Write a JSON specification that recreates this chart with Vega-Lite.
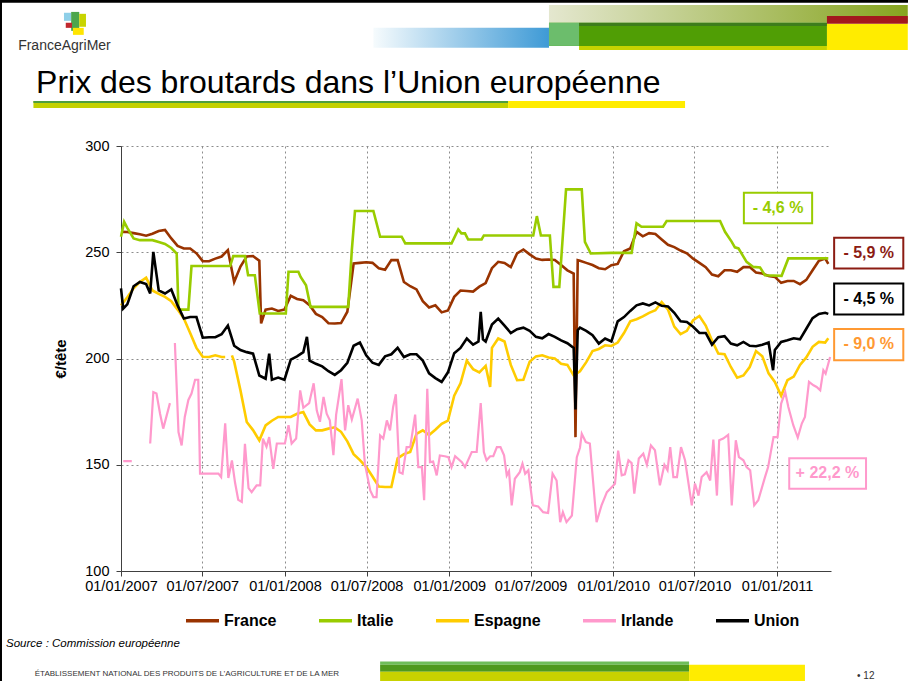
{
"$schema": "https://vega.github.io/schema/vega-lite/v6.json",
"width": 710, "height": 425,
"autosize": {"type": "none"},
"padding": {"left": 121, "top": 146, "right": 77, "bottom": 110},
"background": "#ffffff",
"config": {
  "view": {"stroke": null},
  "font": "Liberation Sans",
  "axis": {"labelFont": "Liberation Sans", "labelColor": "#000000", "labelFontSize": 14.5, "gridColor": "#8c8c8c", "gridDash": [2, 3], "gridWidth": 1, "domainColor": "#404040", "tickColor": "#404040", "tickSize": 5, "domainWidth": 1}
},
"layer": [
  {"data": {"values": [{}]}, "mark": {"type": "rect", "color": "#000000"},
   "encoding": {"x": {"datum": {"year": 2005, "month": 1, "date": 1}, "type": "temporal"}, "x2": {"datum": {"year": 2013, "month": 1, "date": 1}}, "y": {"datum": 400, "type": "quantitative"}, "y2": {"datum": 367.4}}},
  {"data": {"values": [{}]}, "mark": {"type": "rect", "color": "#000000"},
   "encoding": {"x": {"datum": {"year": 2005, "month": 1, "date": 1}, "type": "temporal"}, "x2": {"datum": {"year": 2006, "month": 4, "date": 11}}, "y": {"datum": 400, "type": "quantitative"}, "y2": {"datum": 0}}},
  {"data": {"values": [{}]}, "mark": {"type": "rect", "color": {"gradient": "linear", "x1": 0, "y1": 0, "x2": 1, "y2": 0, "stops": [{"offset": 0, "color": "#f6fbfd"}, {"offset": 1, "color": "#3e9ad6"}]}},
   "encoding": {"x": {"datum": {"year": 2008, "month": 7, "date": 16}, "type": "temporal"}, "x2": {"datum": {"year": 2009, "month": 8, "date": 11}}, "y": {"datum": 355.6, "type": "quantitative"}, "y2": {"datum": 346.2}}},
  {"data": {"values": [{}]}, "mark": {"type": "rect", "color": {"gradient": "linear", "x1": 0, "y1": 0, "x2": 1, "y2": 0, "stops": [{"offset": 0, "color": "#e4e7cf"}, {"offset": 1, "color": "#86a41f"}]}},
   "encoding": {"x": {"datum": {"year": 2009, "month": 8, "date": 11}, "type": "temporal"}, "x2": {"datum": {"year": 2011, "month": 10, "date": 19}}, "y": {"datum": 366.4, "type": "quantitative"}, "y2": {"datum": 358.0}}},
  {"data": {"values": [{}]}, "mark": {"type": "rect", "color": "#509e05"},
   "encoding": {"x": {"datum": {"year": 2009, "month": 8, "date": 11}, "type": "temporal"}, "x2": {"datum": {"year": 2011, "month": 4, "date": 22}}, "y": {"datum": 358.0, "type": "quantitative"}, "y2": {"datum": 347.1}}},
  {"data": {"values": [{}]}, "mark": {"type": "rect", "color": "#6cbd6c"},
   "encoding": {"x": {"datum": {"year": 2009, "month": 8, "date": 11}, "type": "temporal"}, "x2": {"datum": {"year": 2009, "month": 10, "date": 17}}, "y": {"datum": 358.0, "type": "quantitative"}, "y2": {"datum": 347.1}}},
  {"data": {"values": [{}]}, "mark": {"type": "rect", "color": "#3e7d1c"},
   "encoding": {"x": {"datum": {"year": 2009, "month": 10, "date": 17}, "type": "temporal"}, "x2": {"datum": {"year": 2011, "month": 4, "date": 22}}, "y": {"datum": 358.0, "type": "quantitative"}, "y2": {"datum": 356.5}}},
  {"data": {"values": [{}]}, "mark": {"type": "rect", "color": "#c5d300"},
   "encoding": {"x": {"datum": {"year": 2009, "month": 10, "date": 17}, "type": "temporal"}, "x2": {"datum": {"year": 2011, "month": 4, "date": 22}}, "y": {"datum": 347.1, "type": "quantitative"}, "y2": {"datum": 345.2}}},
  {"data": {"values": [{}]}, "mark": {"type": "rect", "color": "#ffec00"},
   "encoding": {"x": {"datum": {"year": 2011, "month": 4, "date": 22}, "type": "temporal"}, "x2": {"datum": {"year": 2011, "month": 10, "date": 19}}, "y": {"datum": 357.5, "type": "quantitative"}, "y2": {"datum": 345.2}}},
  {"data": {"values": [{}]}, "mark": {"type": "rect", "color": "#a3181d"},
   "encoding": {"x": {"datum": {"year": 2011, "month": 4, "date": 22}, "type": "temporal"}, "x2": {"datum": {"year": 2011, "month": 10, "date": 19}}, "y": {"datum": 361.2, "type": "quantitative"}, "y2": {"datum": 357.5}}},
  {"data": {"values": [{}]}, "mark": {"type": "rect", "color": "#8ecfe8"},
   "encoding": {"x": {"datum": {"year": 2006, "month": 8, "date": 27}, "type": "temporal"}, "x2": {"datum": {"year": 2006, "month": 9, "date": 12}}, "y": {"datum": 362.7, "type": "quantitative"}, "y2": {"datum": 358.9}}},
  {"data": {"values": [{}]}, "mark": {"type": "rect", "color": "#4ca64c"},
   "encoding": {"x": {"datum": {"year": 2006, "month": 9, "date": 12}, "type": "temporal"}, "x2": {"datum": {"year": 2006, "month": 9, "date": 30}}, "y": {"datum": 363.1, "type": "quantitative"}, "y2": {"datum": 354.2}}},
  {"data": {"values": [{}]}, "mark": {"type": "rect", "color": "#c8d400"},
   "encoding": {"x": {"datum": {"year": 2006, "month": 9, "date": 30}, "type": "temporal"}, "x2": {"datum": {"year": 2006, "month": 10, "date": 15}}, "y": {"datum": 362.2, "type": "quantitative"}, "y2": {"datum": 356.1}}},
  {"data": {"values": [{}]}, "mark": {"type": "rect", "color": "#c0282d"},
   "encoding": {"x": {"datum": {"year": 2006, "month": 8, "date": 31}, "type": "temporal"}, "x2": {"datum": {"year": 2006, "month": 9, "date": 14}}, "y": {"datum": 358.0, "type": "quantitative"}, "y2": {"datum": 355.6}}},
  {"data": {"values": [{}]}, "mark": {"type": "rect", "color": "#ffe500"},
   "encoding": {"x": {"datum": {"year": 2006, "month": 9, "date": 16}, "type": "temporal"}, "x2": {"datum": {"year": 2006, "month": 10, "date": 10}}, "y": {"datum": 355.6, "type": "quantitative"}, "y2": {"datum": 352.3}}},
  {"data": {"values": [{}]}, "mark": {"type": "text", "text": "FranceAgriMer", "fontSize": 14, "align": "left", "baseline": "alphabetic", "color": "#333333"},
   "encoding": {"x": {"datum": {"year": 2006, "month": 5, "date": 17}, "type": "temporal"}, "y": {"datum": 345.2, "type": "quantitative"}}},
  {"data": {"values": [{}]}, "mark": {"type": "text", "text": "Prix des broutards dans l’Union européenne", "fontSize": 32, "align": "left", "baseline": "alphabetic", "color": "#000000"},
   "encoding": {"x": {"datum": {"year": 2006, "month": 6, "date": 26}, "type": "temporal"}, "y": {"datum": 325.0, "type": "quantitative"}}},
  {"data": {"values": [{}]}, "mark": {"type": "rect", "color": "#c3d100"},
   "encoding": {"x": {"datum": {"year": 2006, "month": 6, "date": 20}, "type": "temporal"}, "x2": {"datum": {"year": 2009, "month": 5, "date": 12}}, "y": {"datum": 321.2, "type": "quantitative"}, "y2": {"datum": 317.9}}},
  {"data": {"values": [{}]}, "mark": {"type": "rect", "color": "#4e9e3e"},
   "encoding": {"x": {"datum": {"year": 2006, "month": 6, "date": 20}, "type": "temporal"}, "x2": {"datum": {"year": 2009, "month": 5, "date": 12}}, "y": {"datum": 321.2, "type": "quantitative"}, "y2": {"datum": 320.2}}},
  {"data": {"values": [{}]}, "mark": {"type": "rect", "color": "#ffec00"},
   "encoding": {"x": {"datum": {"year": 2009, "month": 5, "date": 12}, "type": "temporal"}, "x2": {"datum": {"year": 2010, "month": 6, "date": 10}}, "y": {"datum": 321.2, "type": "quantitative"}, "y2": {"datum": 317.9}}},
  {"data": {"values": [{}]}, "mark": {"type": "text", "text": "Source : Commission européenne", "fontSize": 11.5, "fontStyle": "italic", "align": "left", "baseline": "alphabetic", "color": "#000000"},
   "encoding": {"x": {"datum": {"year": 2006, "month": 4, "date": 20}, "type": "temporal"}, "y": {"datum": 64.4, "type": "quantitative"}}},
  {"data": {"values": [{}]}, "mark": {"type": "text", "text": "ÉTABLISSEMENT NATIONAL DES PRODUITS DE L’AGRICULTURE ET DE LA MER", "fontSize": 8, "align": "left", "baseline": "alphabetic", "color": "#333333"},
   "encoding": {"x": {"datum": {"year": 2006, "month": 6, "date": 23}, "type": "temporal"}, "y": {"datum": 50.8, "type": "quantitative"}}},
  {"data": {"values": [{}]}, "mark": {"type": "rect", "color": "#6fbe5a"},
   "encoding": {"x": {"datum": {"year": 2008, "month": 7, "date": 31}, "type": "temporal"}, "x2": {"datum": {"year": 2010, "month": 6, "date": 19}}, "y": {"datum": 57.4, "type": "quantitative"}, "y2": {"datum": 55.9}}},
  {"data": {"values": [{}]}, "mark": {"type": "rect", "color": "#4f9a1e"},
   "encoding": {"x": {"datum": {"year": 2008, "month": 7, "date": 31}, "type": "temporal"}, "x2": {"datum": {"year": 2010, "month": 6, "date": 19}}, "y": {"datum": 55.9, "type": "quantitative"}, "y2": {"datum": 52.6}}},
  {"data": {"values": [{}]}, "mark": {"type": "rect", "color": "#c8d200"},
   "encoding": {"x": {"datum": {"year": 2008, "month": 7, "date": 31}, "type": "temporal"}, "x2": {"datum": {"year": 2010, "month": 6, "date": 19}}, "y": {"datum": 52.6, "type": "quantitative"}, "y2": {"datum": 45}}},
  {"data": {"values": [{}]}, "mark": {"type": "rect", "color": "#ffec00"},
   "encoding": {"x": {"datum": {"year": 2010, "month": 6, "date": 19}, "type": "temporal"}, "x2": {"datum": {"year": 2011, "month": 3, "date": 4}}, "y": {"datum": 55.9, "type": "quantitative"}, "y2": {"datum": 45}}},
  {"data": {"values": [{}]}, "mark": {"type": "text", "text": "• 12", "fontSize": 10, "align": "left", "baseline": "alphabetic", "color": "#333333"},
   "encoding": {"x": {"datum": {"year": 2011, "month": 6, "date": 28}, "type": "temporal"}, "y": {"datum": 49.4, "type": "quantitative"}}},

  {"encoding": {
    "x": {"field": "d", "type": "temporal",
          "scale": {"domain": [{"year": 2007, "month": 1, "date": 1}, {"year": 2011, "month": 5, "date": 1}], "nice": false},
          "axis": {"title": null, "format": "%d/%m/%Y", "grid": true, "labelPadding": 3, "labelFlush": false, "labelOverlap": false,
                   "values": [{"year": 2007, "month": 1, "date": 1}, {"year": 2007, "month": 7, "date": 1}, {"year": 2008, "month": 1, "date": 1}, {"year": 2008, "month": 7, "date": 1}, {"year": 2009, "month": 1, "date": 1}, {"year": 2009, "month": 7, "date": 1}, {"year": 2010, "month": 1, "date": 1}, {"year": 2010, "month": 7, "date": 1}, {"year": 2011, "month": 1, "date": 1}]}},
    "y": {"field": "v", "type": "quantitative",
          "scale": {"domain": [100, 300], "zero": false, "nice": false},
          "axis": {"title": "€/tête", "values": [100, 150, 200, 250, 300], "grid": true, "titleFontSize": 15, "titleFontWeight": "bold", "titleColor": "#000000", "titlePadding": 16, "labelPadding": 7}}
   },
   "layer": [
  {"data": {"values": [
{"d":"2007-1","v":259.6},{"d":"2007-15","v":259.5},{"d":"2007-29","v":259},{"d":"2007-43","v":258.5},{"d":"2007-57","v":257.8},{"d":"2007-71","v":258.7},{"d":"2007-85","v":260},{"d":"2007-99","v":260.5},{"d":"2007-113","v":256.5},{"d":"2007-127","v":253},{"d":"2007-141","v":251.8},{"d":"2007-155","v":251.8},{"d":"2007-169","v":249.5},{"d":"2007-183","v":245.8},{"d":"2007-197","v":245.8},{"d":"2007-211","v":247},{"d":"2007-225","v":248},{"d":"2007-239","v":251},{"d":"2007-253","v":236},{"d":"2007-267","v":243.3},{"d":"2007-281","v":248},{"d":"2007-295","v":248.2},{"d":"2007-309","v":246},{"d":"2007-313","v":216.5},{"d":"2007-323","v":223},{"d":"2007-337","v":223.5},{"d":"2007-351","v":222.4},{"d":"2007-365","v":223},{"d":"2008-14","v":229.5},{"d":"2008-28","v":228},{"d":"2008-42","v":227.4},{"d":"2008-56","v":225.1},{"d":"2008-70","v":221},{"d":"2008-84","v":219.5},{"d":"2008-98","v":216.6},{"d":"2008-112","v":216.5},{"d":"2008-126","v":216.7},{"d":"2008-140","v":222},{"d":"2008-154","v":244.7},{"d":"2008-168","v":245},{"d":"2008-182","v":245.3},{"d":"2008-196","v":245},{"d":"2008-210","v":242.5},{"d":"2008-224","v":241.8},{"d":"2008-238","v":246.3},{"d":"2008-252","v":246.3},{"d":"2008-266","v":236},{"d":"2008-280","v":234},{"d":"2008-294","v":232.5},{"d":"2008-308","v":227},{"d":"2008-322","v":224},{"d":"2008-336","v":225},{"d":"2008-350","v":221.7},{"d":"2008-364","v":222.6},{"d":"2009-12","v":229},{"d":"2009-26","v":232},{"d":"2009-40","v":231.8},{"d":"2009-54","v":231.5},{"d":"2009-68","v":233.8},{"d":"2009-82","v":235.5},{"d":"2009-96","v":242.5},{"d":"2009-110","v":245.5},{"d":"2009-124","v":245},{"d":"2009-138","v":243},{"d":"2009-152","v":249.5},{"d":"2009-166","v":251.3},{"d":"2009-180","v":249},{"d":"2009-194","v":247},{"d":"2009-208","v":246.4},{"d":"2009-222","v":246.6},{"d":"2009-236","v":246.4},{"d":"2009-250","v":244},{"d":"2009-264","v":241.5},{"d":"2009-278","v":240},{"d":"2009-282","v":163},{"d":"2009-287","v":246.3},{"d":"2009-292","v":246},{"d":"2009-306","v":245},{"d":"2009-320","v":244},{"d":"2009-334","v":242.5},{"d":"2009-348","v":242},{"d":"2009-362","v":243.9},{"d":"2010-11","v":244.5},{"d":"2010-25","v":250.5},{"d":"2010-39","v":251.8},{"d":"2010-53","v":259.6},{"d":"2010-67","v":257.5},{"d":"2010-81","v":259},{"d":"2010-95","v":258.6},{"d":"2010-109","v":256},{"d":"2010-123","v":253.5},{"d":"2010-137","v":252.4},{"d":"2010-151","v":250.8},{"d":"2010-165","v":249.5},{"d":"2010-179","v":247},{"d":"2010-193","v":245},{"d":"2010-207","v":243},{"d":"2010-221","v":239.5},{"d":"2010-235","v":238.7},{"d":"2010-249","v":241.5},{"d":"2010-263","v":241.5},{"d":"2010-277","v":240.8},{"d":"2010-291","v":243},{"d":"2010-305","v":243},{"d":"2010-319","v":240.5},{"d":"2010-333","v":240},{"d":"2010-347","v":238.8},{"d":"2010-361","v":238.4},{"d":"2011-10","v":235.6},{"d":"2011-24","v":236.5},{"d":"2011-38","v":236.5},{"d":"2011-52","v":235},{"d":"2011-66","v":237},{"d":"2011-80","v":241.5},{"d":"2011-94","v":246},{"d":"2011-108","v":247.1},{"d":"2011-115","v":244.5}
   ], "format": {"parse": {"d": "date:'%Y-%j'"}}},
   "mark": {"type": "line", "strokeWidth": 2.6},
   "encoding": {"color": {"datum": "France", "type": "nominal",
     "scale": {"domain": ["France", "Italie", "Espagne", "Irlande", "Union"], "range": ["#993300", "#99cc00", "#ffcc00", "#ff99cc", "#000000"]},
     "legend": {"orient": "none", "legendX": 63, "legendY": 456, "direction": "horizontal", "title": null, "symbolType": "stroke", "symbolSize": 1089, "symbolStrokeWidth": 3.5, "labelFontSize": 16, "labelFontWeight": "bold", "labelColor": "#000000", "labelOffset": 3, "columnPadding": 35, "padding": 0, "labelLimit": 300}}}},

  {"data": {"values": [
{"d":"2007-1","v":257.3},{"d":"2007-8","v":264.3},{"d":"2007-15","v":261.5},{"d":"2007-29","v":256.5},{"d":"2007-43","v":255.7},{"d":"2007-57","v":255.7},{"d":"2007-71","v":255.7},{"d":"2007-85","v":254.8},{"d":"2007-99","v":253.9},{"d":"2007-113","v":252},{"d":"2007-125","v":249.4},{"d":"2007-129","v":223},{"d":"2007-141","v":223},{"d":"2007-151","v":223},{"d":"2007-158","v":243.5},{"d":"2007-183","v":243.5},{"d":"2007-211","v":243.5},{"d":"2007-244","v":243.5},{"d":"2007-251","v":248.2},{"d":"2007-277","v":248.2},{"d":"2007-284","v":239.2},{"d":"2007-299","v":239.2},{"d":"2007-310","v":221.2},{"d":"2007-337","v":221.2},{"d":"2008-3","v":221.2},{"d":"2008-9","v":240.8},{"d":"2008-31","v":240.8},{"d":"2008-36","v":238.4},{"d":"2008-48","v":234.5},{"d":"2008-58","v":224.3},{"d":"2008-98","v":224.3},{"d":"2008-142","v":224.3},{"d":"2008-150","v":251},{"d":"2008-157","v":269.4},{"d":"2008-198","v":269.4},{"d":"2008-213","v":257.3},{"d":"2008-261","v":257.3},{"d":"2008-269","v":254.2},{"d":"2008-322","v":254.2},{"d":"2009-6","v":254.2},{"d":"2009-21","v":260.7},{"d":"2009-28","v":258.9},{"d":"2009-36","v":258.9},{"d":"2009-43","v":256},{"d":"2009-73","v":256},{"d":"2009-78","v":257.9},{"d":"2009-124","v":257.9},{"d":"2009-188","v":257.9},{"d":"2009-196","v":267},{"d":"2009-205","v":257.9},{"d":"2009-225","v":257.9},{"d":"2009-233","v":233.7},{"d":"2009-246","v":233.7},{"d":"2009-261","v":279.6},{"d":"2009-296","v":279.6},{"d":"2009-303","v":254.9},{"d":"2009-316","v":249.4},{"d":"2009-362","v":249.7},{"d":"2010-42","v":249.7},{"d":"2010-53","v":263.6},{"d":"2010-64","v":262},{"d":"2010-112","v":262},{"d":"2010-120","v":264.7},{"d":"2010-179","v":264.7},{"d":"2010-239","v":264.7},{"d":"2010-250","v":259.6},{"d":"2010-265","v":254.9},{"d":"2010-272","v":252.3},{"d":"2010-280","v":251.8},{"d":"2010-298","v":245.5},{"d":"2010-313","v":243.1},{"d":"2010-328","v":242.8},{"d":"2010-339","v":239.2},{"d":"2011-11","v":238.9},{"d":"2011-26","v":247.1},{"d":"2011-52","v":247.1},{"d":"2011-80","v":247.1},{"d":"2011-115","v":247.1}
   ], "format": {"parse": {"d": "date:'%Y-%j'"}}},
   "mark": {"type": "line", "strokeWidth": 2.6},
   "encoding": {"color": {"datum": "Italie", "type": "nominal",
     "scale": {"domain": ["France", "Italie", "Espagne", "Irlande", "Union"], "range": ["#993300", "#99cc00", "#ffcc00", "#ff99cc", "#000000"]},
     "legend": {"orient": "none", "legendX": 63, "legendY": 456, "direction": "horizontal", "title": null, "symbolType": "stroke", "symbolSize": 1089, "symbolStrokeWidth": 3.5, "labelFontSize": 16, "labelFontWeight": "bold", "labelColor": "#000000", "labelOffset": 3, "columnPadding": 35, "padding": 0, "labelLimit": 300}}}},

  {"data": {"values": [
{"d":"2007-1","v":225},{"d":"2007-15","v":228.8},{"d":"2007-29","v":233},{"d":"2007-43","v":236},{"d":"2007-57","v":238},{"d":"2007-71","v":232},{"d":"2007-85","v":230.4},{"d":"2007-99","v":229},{"d":"2007-113","v":227},{"d":"2007-127","v":223},{"d":"2007-141","v":218.8},{"d":"2007-155","v":212},{"d":"2007-169","v":205},{"d":"2007-183","v":200.8},{"d":"2007-197","v":200.7},{"d":"2007-211","v":201.5},{"d":"2007-225","v":200.7},{"d":"2007-233","v":200.7},{"d":"2007-239","v":null},{"d":"2007-248","v":201.5},{"d":"2007-253","v":198.5},{"d":"2007-267","v":185},{"d":"2007-281","v":170.1},{"d":"2007-295","v":166.3},{"d":"2007-309","v":161.5},{"d":"2007-323","v":168.5},{"d":"2007-337","v":170.7},{"d":"2007-351","v":172.5},{"d":"2007-365","v":172.5},{"d":"2008-14","v":172.5},{"d":"2008-28","v":174},{"d":"2008-42","v":174.8},{"d":"2008-56","v":169},{"d":"2008-70","v":166.2},{"d":"2008-84","v":166.2},{"d":"2008-98","v":167},{"d":"2008-112","v":167.6},{"d":"2008-126","v":165.5},{"d":"2008-140","v":161},{"d":"2008-154","v":155},{"d":"2008-168","v":152.2},{"d":"2008-182","v":149},{"d":"2008-196","v":144.5},{"d":"2008-210","v":139.8},{"d":"2008-224","v":139.5},{"d":"2008-238","v":139.5},{"d":"2008-252","v":153},{"d":"2008-266","v":155},{"d":"2008-280","v":156},{"d":"2008-294","v":164.5},{"d":"2008-308","v":166.2},{"d":"2008-322","v":164},{"d":"2008-336","v":166.5},{"d":"2008-350","v":169.3},{"d":"2008-364","v":170.8},{"d":"2009-12","v":182.5},{"d":"2009-26","v":188.3},{"d":"2009-40","v":199},{"d":"2009-54","v":195},{"d":"2009-68","v":193.5},{"d":"2009-82","v":196.5},{"d":"2009-92","v":186.6},{"d":"2009-96","v":205},{"d":"2009-110","v":209.4},{"d":"2009-124","v":208},{"d":"2009-138","v":197},{"d":"2009-152","v":189.8},{"d":"2009-166","v":190},{"d":"2009-180","v":198.5},{"d":"2009-194","v":201},{"d":"2009-208","v":201.5},{"d":"2009-222","v":200.5},{"d":"2009-236","v":200},{"d":"2009-250","v":197.5},{"d":"2009-264","v":197},{"d":"2009-278","v":192},{"d":"2009-292","v":194},{"d":"2009-306","v":198.3},{"d":"2009-320","v":203.5},{"d":"2009-334","v":204.5},{"d":"2009-348","v":206.2},{"d":"2009-362","v":205.9},{"d":"2010-11","v":207.5},{"d":"2010-25","v":212},{"d":"2010-39","v":217.5},{"d":"2010-53","v":218.5},{"d":"2010-67","v":219.8},{"d":"2010-81","v":221.5},{"d":"2010-95","v":222.7},{"d":"2010-109","v":226.6},{"d":"2010-123","v":223},{"d":"2010-137","v":215},{"d":"2010-151","v":211.5},{"d":"2010-165","v":213},{"d":"2010-179","v":218},{"d":"2010-193","v":220},{"d":"2010-207","v":215.5},{"d":"2010-221","v":208.5},{"d":"2010-235","v":202.3},{"d":"2010-249","v":202},{"d":"2010-263","v":196},{"d":"2010-277","v":191},{"d":"2010-291","v":192},{"d":"2010-305","v":196},{"d":"2010-319","v":203.5},{"d":"2010-333","v":201},{"d":"2010-347","v":193},{"d":"2010-361","v":189},{"d":"2011-10","v":182.5},{"d":"2011-24","v":189.8},{"d":"2011-38","v":191.5},{"d":"2011-52","v":197},{"d":"2011-66","v":200.5},{"d":"2011-80","v":205.5},{"d":"2011-94","v":207.8},{"d":"2011-108","v":207.5},{"d":"2011-115","v":209.5}
   ], "format": {"parse": {"d": "date:'%Y-%j'"}}},
   "mark": {"type": "line", "strokeWidth": 2.6},
   "encoding": {"color": {"datum": "Espagne", "type": "nominal",
     "scale": {"domain": ["France", "Italie", "Espagne", "Irlande", "Union"], "range": ["#993300", "#99cc00", "#ffcc00", "#ff99cc", "#000000"]},
     "legend": {"orient": "none", "legendX": 63, "legendY": 456, "direction": "horizontal", "title": null, "symbolType": "stroke", "symbolSize": 1089, "symbolStrokeWidth": 3.5, "labelFontSize": 16, "labelFontWeight": "bold", "labelColor": "#000000", "labelOffset": 3, "columnPadding": 35, "padding": 0, "labelLimit": 300}}}},

  {"data": {"values": [
{"d":"2007-6","v":151.7},{"d":"2007-25","v":151.7},{"d":"2007-40","v":null},{"d":"2007-66","v":160},{"d":"2007-73","v":184.2},{"d":"2007-80","v":183.5},{"d":"2007-88","v":174},{"d":"2007-95","v":167},{"d":"2007-110","v":179},{"d":"2007-116","v":null},{"d":"2007-121","v":207.3},{"d":"2007-129","v":165.4},{"d":"2007-136","v":159.1},{"d":"2007-143","v":172.5},{"d":"2007-151","v":180.5},{"d":"2007-158","v":183.5},{"d":"2007-166","v":190},{"d":"2007-173","v":190},{"d":"2007-177","v":145.8},{"d":"2007-218","v":145.8},{"d":"2007-224","v":144.2},{"d":"2007-233","v":169.5},{"d":"2007-240","v":143.8},{"d":"2007-248","v":152},{"d":"2007-255","v":141.5},{"d":"2007-262","v":133.5},{"d":"2007-270","v":132.5},{"d":"2007-277","v":159.8},{"d":"2007-285","v":139},{"d":"2007-292","v":137.1},{"d":"2007-303","v":140.3},{"d":"2007-311","v":140.3},{"d":"2007-317","v":162.3},{"d":"2007-325","v":158.5},{"d":"2007-331","v":163},{"d":"2007-340","v":148.1},{"d":"2007-348","v":160},{"d":"2008-1","v":160},{"d":"2008-9","v":168.6},{"d":"2008-16","v":160},{"d":"2008-26","v":162.3},{"d":"2008-35","v":185},{"d":"2008-42","v":176.8},{"d":"2008-55","v":179},{"d":"2008-65","v":188.3},{"d":"2008-72","v":175.5},{"d":"2008-79","v":170.2},{"d":"2008-87","v":181.9},{"d":"2008-94","v":174},{"d":"2008-101","v":170.9},{"d":"2008-109","v":154.5},{"d":"2008-115","v":173.5},{"d":"2008-127","v":190.3},{"d":"2008-135","v":166.2},{"d":"2008-142","v":178},{"d":"2008-150","v":171.3},{"d":"2008-163","v":181.1},{"d":"2008-172","v":170.9},{"d":"2008-179","v":150.5},{"d":"2008-191","v":137.9},{"d":"2008-198","v":134.8},{"d":"2008-205","v":134.8},{"d":"2008-213","v":163.8},{"d":"2008-220","v":162.3},{"d":"2008-228","v":170.9},{"d":"2008-235","v":166.2},{"d":"2008-242","v":177.2},{"d":"2008-248","v":183.2},{"d":"2008-256","v":146.5},{"d":"2008-263","v":145.8},{"d":"2008-272","v":158.3},{"d":"2008-280","v":158.3},{"d":"2008-291","v":173.6},{"d":"2008-298","v":148.9},{"d":"2008-306","v":148.9},{"d":"2008-311","v":133.3},{"d":"2008-318","v":185.8},{"d":"2008-324","v":151.2},{"d":"2008-331","v":151.5},{"d":"2008-339","v":145},{"d":"2008-346","v":154.4},{"d":"2008-357","v":154},{"d":"2008-365","v":153.6},{"d":"2009-6","v":148.9},{"d":"2009-14","v":154},{"d":"2009-29","v":151.2},{"d":"2009-36","v":148.9},{"d":"2009-51","v":156},{"d":"2009-62","v":156},{"d":"2009-71","v":179},{"d":"2009-78","v":156},{"d":"2009-84","v":152.1},{"d":"2009-92","v":154},{"d":"2009-99","v":154},{"d":"2009-107","v":158.3},{"d":"2009-115","v":158.3},{"d":"2009-123","v":154.4},{"d":"2009-129","v":145},{"d":"2009-134","v":147},{"d":"2009-140","v":130.9},{"d":"2009-147","v":143.4},{"d":"2009-158","v":146.5},{"d":"2009-164","v":150.5},{"d":"2009-170","v":145.8},{"d":"2009-177","v":147.4},{"d":"2009-187","v":130.9},{"d":"2009-199","v":130.4},{"d":"2009-210","v":127.7},{"d":"2009-221","v":127.3},{"d":"2009-231","v":145.8},{"d":"2009-240","v":142.6},{"d":"2009-248","v":123},{"d":"2009-254","v":127.7},{"d":"2009-262","v":123},{"d":"2009-274","v":126.1},{"d":"2009-285","v":153.6},{"d":"2009-292","v":158},{"d":"2009-296","v":164.6},{"d":"2009-305","v":160.7},{"d":"2009-314","v":160},{"d":"2009-329","v":123},{"d":"2009-340","v":130.9},{"d":"2009-352","v":137.1},{"d":"2009-363","v":139.5},{"d":"2010-5","v":141},{"d":"2010-12","v":156.6},{"d":"2010-20","v":145},{"d":"2010-27","v":145.5},{"d":"2010-35","v":152.1},{"d":"2010-42","v":150.8},{"d":"2010-48","v":136.4},{"d":"2010-58","v":153},{"d":"2010-68","v":155.2},{"d":"2010-76","v":150},{"d":"2010-85","v":159.1},{"d":"2010-94","v":156.8},{"d":"2010-105","v":140.3},{"d":"2010-115","v":150},{"d":"2010-122","v":147.4},{"d":"2010-128","v":158.3},{"d":"2010-135","v":144.2},{"d":"2010-143","v":144.2},{"d":"2010-152","v":158.3},{"d":"2010-161","v":152.1},{"d":"2010-176","v":130.9},{"d":"2010-183","v":141.1},{"d":"2010-191","v":135.5},{"d":"2010-198","v":144.2},{"d":"2010-209","v":146.5},{"d":"2010-217","v":142.6},{"d":"2010-224","v":161.8},{"d":"2010-232","v":135.5},{"d":"2010-237","v":161.5},{"d":"2010-246","v":162.3},{"d":"2010-257","v":164.1},{"d":"2010-265","v":130.9},{"d":"2010-274","v":161.5},{"d":"2010-281","v":153.6},{"d":"2010-291","v":152.1},{"d":"2010-298","v":148.9},{"d":"2010-306","v":147.4},{"d":"2010-315","v":130.9},{"d":"2010-324","v":133.3},{"d":"2010-339","v":144.2},{"d":"2010-346","v":148.9},{"d":"2010-358","v":163},{"d":"2011-2","v":163},{"d":"2011-10","v":178.8},{"d":"2011-19","v":184.2},{"d":"2011-26","v":177.2},{"d":"2011-37","v":168.6},{"d":"2011-47","v":162.8},{"d":"2011-56","v":169.4},{"d":"2011-63","v":172.5},{"d":"2011-72","v":189},{"d":"2011-82","v":187.4},{"d":"2011-89","v":186.6},{"d":"2011-97","v":185},{"d":"2011-104","v":194.5},{"d":"2011-109","v":192.9},{"d":"2011-119","v":200.7}
   ], "format": {"parse": {"d": "date:'%Y-%j'"}}},
   "mark": {"type": "line", "strokeWidth": 2.2},
   "encoding": {"color": {"datum": "Irlande", "type": "nominal",
     "scale": {"domain": ["France", "Italie", "Espagne", "Irlande", "Union"], "range": ["#993300", "#99cc00", "#ffcc00", "#ff99cc", "#000000"]},
     "legend": {"orient": "none", "legendX": 63, "legendY": 456, "direction": "horizontal", "title": null, "symbolType": "stroke", "symbolSize": 1089, "symbolStrokeWidth": 3.5, "labelFontSize": 16, "labelFontWeight": "bold", "labelColor": "#000000", "labelOffset": 3, "columnPadding": 35, "padding": 0, "labelLimit": 300}}}},

  {"data": {"values": [
{"d":"2007-1","v":233},{"d":"2007-6","v":223.5},{"d":"2007-15","v":225.5},{"d":"2007-29","v":234},{"d":"2007-43","v":236},{"d":"2007-57","v":235},{"d":"2007-66","v":230.6},{"d":"2007-73","v":250.2},{"d":"2007-85","v":232},{"d":"2007-99","v":230.6},{"d":"2007-113","v":232.5},{"d":"2007-127","v":225},{"d":"2007-141","v":218.8},{"d":"2007-155","v":219.5},{"d":"2007-169","v":219.5},{"d":"2007-183","v":209.8},{"d":"2007-197","v":210},{"d":"2007-211","v":210},{"d":"2007-225","v":211.4},{"d":"2007-239","v":215.5},{"d":"2007-253","v":206},{"d":"2007-267","v":204},{"d":"2007-281","v":203},{"d":"2007-295","v":202.3},{"d":"2007-309","v":192},{"d":"2007-323","v":190.5},{"d":"2007-331","v":202.3},{"d":"2007-337","v":190},{"d":"2007-351","v":191},{"d":"2007-365","v":190},{"d":"2008-14","v":199.5},{"d":"2008-28","v":201},{"d":"2008-42","v":203},{"d":"2008-50","v":210.2},{"d":"2008-56","v":199},{"d":"2008-70","v":197.5},{"d":"2008-84","v":196.3},{"d":"2008-98","v":194},{"d":"2008-112","v":192.3},{"d":"2008-126","v":194.5},{"d":"2008-140","v":198},{"d":"2008-154","v":206},{"d":"2008-168","v":207.5},{"d":"2008-182","v":201.5},{"d":"2008-196","v":198},{"d":"2008-210","v":197},{"d":"2008-224","v":201},{"d":"2008-238","v":202},{"d":"2008-252","v":205},{"d":"2008-266","v":200.7},{"d":"2008-280","v":202},{"d":"2008-294","v":202},{"d":"2008-308","v":199},{"d":"2008-322","v":193},{"d":"2008-336","v":190.8},{"d":"2008-350","v":189},{"d":"2008-364","v":193.5},{"d":"2009-12","v":202.5},{"d":"2009-26","v":205},{"d":"2009-40","v":209.4},{"d":"2009-54","v":206.5},{"d":"2009-66","v":208},{"d":"2009-71","v":221.9},{"d":"2009-76","v":209},{"d":"2009-82","v":208},{"d":"2009-96","v":216},{"d":"2009-110","v":218.8},{"d":"2009-124","v":215.5},{"d":"2009-138","v":212},{"d":"2009-152","v":213.8},{"d":"2009-166","v":214.5},{"d":"2009-180","v":213},{"d":"2009-194","v":210.2},{"d":"2009-208","v":209.5},{"d":"2009-222","v":211.5},{"d":"2009-236","v":210.2},{"d":"2009-250","v":208.5},{"d":"2009-264","v":207.2},{"d":"2009-278","v":205},{"d":"2009-282","v":176},{"d":"2009-287","v":213.3},{"d":"2009-292","v":214.5},{"d":"2009-306","v":213},{"d":"2009-320","v":211},{"d":"2009-334","v":207},{"d":"2009-348","v":209.4},{"d":"2009-362","v":208},{"d":"2010-11","v":217.5},{"d":"2010-25","v":219.5},{"d":"2010-39","v":222.4},{"d":"2010-53","v":225},{"d":"2010-67","v":225.9},{"d":"2010-81","v":225},{"d":"2010-95","v":226.4},{"d":"2010-109","v":224.8},{"d":"2010-123","v":224.5},{"d":"2010-137","v":221.5},{"d":"2010-151","v":217.5},{"d":"2010-165","v":217.2},{"d":"2010-179","v":214.9},{"d":"2010-193","v":212},{"d":"2010-207","v":212},{"d":"2010-221","v":206.5},{"d":"2010-235","v":210},{"d":"2010-249","v":210.5},{"d":"2010-263","v":207},{"d":"2010-277","v":206.2},{"d":"2010-291","v":207.8},{"d":"2010-305","v":206},{"d":"2010-319","v":205.8},{"d":"2010-333","v":206.5},{"d":"2010-347","v":207.5},{"d":"2010-357","v":194.5},{"d":"2010-361","v":204},{"d":"2011-10","v":207.8},{"d":"2011-24","v":208.6},{"d":"2011-38","v":209.5},{"d":"2011-52","v":209},{"d":"2011-66","v":214},{"d":"2011-80","v":219},{"d":"2011-94","v":221},{"d":"2011-108","v":221.5},{"d":"2011-115","v":221}
   ], "format": {"parse": {"d": "date:'%Y-%j'"}}},
   "mark": {"type": "line", "strokeWidth": 2.6},
   "encoding": {"color": {"datum": "Union", "type": "nominal",
     "scale": {"domain": ["France", "Italie", "Espagne", "Irlande", "Union"], "range": ["#993300", "#99cc00", "#ffcc00", "#ff99cc", "#000000"]},
     "legend": {"orient": "none", "legendX": 63, "legendY": 456, "direction": "horizontal", "title": null, "symbolType": "stroke", "symbolSize": 1089, "symbolStrokeWidth": 3.5, "labelFontSize": 16, "labelFontWeight": "bold", "labelColor": "#000000", "labelOffset": 3, "columnPadding": 35, "padding": 0, "labelLimit": 300}}}}
   ]},

  {"data": {"values": [{}]}, "mark": {"type": "rect", "fill": "#ffffff", "stroke": "#99cc00", "strokeWidth": 2},
   "encoding": {"x": {"datum": {"year": 2010, "month": 10, "date": 19}, "type": "temporal"}, "x2": {"datum": {"year": 2011, "month": 3, "date": 20}}, "y": {"datum": 278.0, "type": "quantitative"}, "y2": {"datum": 263.6}}},
  {"data": {"values": [{}]}, "mark": {"type": "text", "text": "- 4,6 %", "fontSize": 16, "fontWeight": "bold", "align": "center", "baseline": "middle", "color": "#99cc00"},
   "encoding": {"x": {"datum": {"year": 2011, "month": 1, "date": 3}, "type": "temporal"}, "y": {"datum": 270.8, "type": "quantitative"}}},
  {"data": {"values": [{}]}, "mark": {"type": "rect", "fill": "#ffffff", "stroke": "#8c1c13", "strokeWidth": 2},
   "encoding": {"x": {"datum": {"year": 2011, "month": 5, "date": 8}, "type": "temporal"}, "x2": {"datum": {"year": 2011, "month": 10, "date": 9}}, "y": {"datum": 256.8, "type": "quantitative"}, "y2": {"datum": 242.4}}},
  {"data": {"values": [{}]}, "mark": {"type": "text", "text": "- 5,9 %", "fontSize": 16, "fontWeight": "bold", "align": "center", "baseline": "middle", "color": "#8c1c13"},
   "encoding": {"x": {"datum": {"year": 2011, "month": 7, "date": 24}, "type": "temporal"}, "y": {"datum": 249.6, "type": "quantitative"}}},
  {"data": {"values": [{}]}, "mark": {"type": "rect", "fill": "#ffffff", "stroke": "#000000", "strokeWidth": 2},
   "encoding": {"x": {"datum": {"year": 2011, "month": 5, "date": 8}, "type": "temporal"}, "x2": {"datum": {"year": 2011, "month": 10, "date": 9}}, "y": {"datum": 235.3, "type": "quantitative"}, "y2": {"datum": 220.7}}},
  {"data": {"values": [{}]}, "mark": {"type": "text", "text": "- 4,5 %", "fontSize": 16, "fontWeight": "bold", "align": "center", "baseline": "middle", "color": "#000000"},
   "encoding": {"x": {"datum": {"year": 2011, "month": 7, "date": 24}, "type": "temporal"}, "y": {"datum": 228.0, "type": "quantitative"}}},
  {"data": {"values": [{}]}, "mark": {"type": "rect", "fill": "#ffffff", "stroke": "#ff9933", "strokeWidth": 2},
   "encoding": {"x": {"datum": {"year": 2011, "month": 5, "date": 8}, "type": "temporal"}, "x2": {"datum": {"year": 2011, "month": 10, "date": 9}}, "y": {"datum": 213.9, "type": "quantitative"}, "y2": {"datum": 199.2}}},
  {"data": {"values": [{}]}, "mark": {"type": "text", "text": "- 9,0 %", "fontSize": 16, "fontWeight": "bold", "align": "center", "baseline": "middle", "color": "#ff9933"},
   "encoding": {"x": {"datum": {"year": 2011, "month": 7, "date": 24}, "type": "temporal"}, "y": {"datum": 206.6, "type": "quantitative"}}},
  {"data": {"values": [{}]}, "mark": {"type": "rect", "fill": "#ffffff", "stroke": "#ff99cc", "strokeWidth": 2},
   "encoding": {"x": {"datum": {"year": 2011, "month": 1, "date": 28}, "type": "temporal"}, "x2": {"datum": {"year": 2011, "month": 7, "date": 18}}, "y": {"datum": 153.1, "type": "quantitative"}, "y2": {"datum": 138.7}}},
  {"data": {"values": [{}]}, "mark": {"type": "text", "text": "+ 22,2 %", "fontSize": 16, "fontWeight": "bold", "align": "center", "baseline": "middle", "color": "#ff99cc"},
   "encoding": {"x": {"datum": {"year": 2011, "month": 4, "date": 23}, "type": "temporal"}, "y": {"datum": 145.9, "type": "quantitative"}}}
]
}
